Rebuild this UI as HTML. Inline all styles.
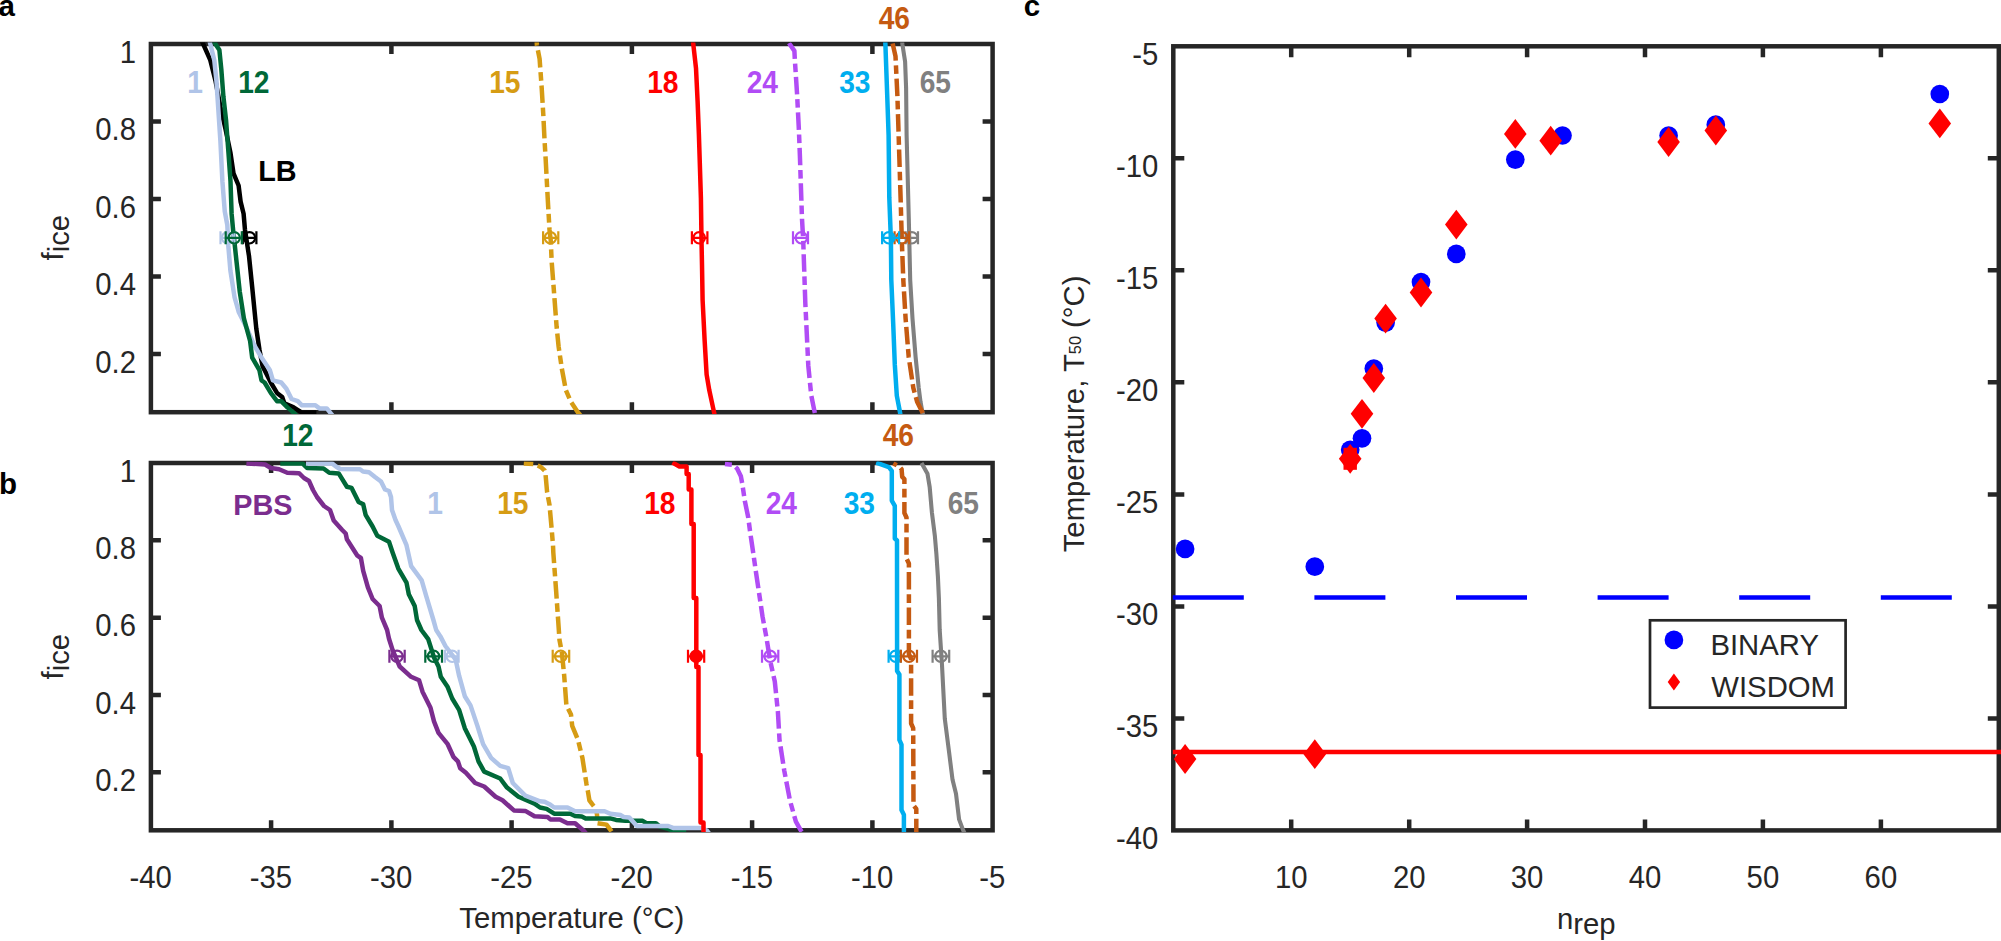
<!DOCTYPE html>
<html lang="en"><head><meta charset="utf-8"><title>Ice nucleation figure</title>
<style>html,body{margin:0;padding:0;background:#fff;overflow:hidden}svg{display:block}text{font-family:"Liberation Sans",sans-serif}</style></head><body>
<svg width="2001" height="941" viewBox="0 0 2001 941">
<rect width="2001" height="941" fill="#fff"/>
<defs>
<clipPath id="ca"><rect x="150.6" y="42.4" width="842.3" height="371.6"/></clipPath>
<clipPath id="cb"><rect x="150.6" y="461.4" width="842.3" height="370.7"/></clipPath>
<clipPath id="cc"><rect x="1173.0" y="44.7" width="826.1" height="787.5"/></clipPath>
</defs>
<rect x="150.9" y="44.0" width="841.7" height="368.2" fill="none" stroke="#262626" stroke-width="4.5"/>
<path d="M391.4 412.2v-10.0M391.4 44.0v10.0M631.9 412.2v-10.0M631.9 44.0v10.0M872.4 412.2v-10.0M872.4 44.0v10.0M150.9 121.5h10.0M992.6 121.5h-10.0M150.9 199.0h10.0M992.6 199.0h-10.0M150.9 276.5h10.0M992.6 276.5h-10.0M150.9 354.1h10.0M992.6 354.1h-10.0" fill="none" stroke="#262626" stroke-width="4.5"/>
<polyline points="201.5,40.0 203.2,44.0 210.3,60.2 215.4,80.4 220.4,106.7 225.5,128.9 230.5,153.0 233.5,173.3 238.6,185.5 240.6,201.6 243.6,213.7 245.0,230.0 249.0,256.0 252.2,287.2 256.3,328.6 259.4,349.4 262.5,365.9 270.8,382.5 277.0,392.9 282.2,397.0 284.3,403.2 293.6,407.4 301.9,412.6 316.4,412.6" fill="none" stroke="#000000" stroke-width="4.5" stroke-linejoin="round" clip-path="url(#ca)"/>
<polyline points="209.3,40.0 210.3,44.0 214.3,60.2 216.4,80.4 218.4,110.7 220.4,141.0 222.4,181.4 224.8,211.7 227.3,225.0 228.3,245.7 230.4,270.6 234.6,297.5 238.7,312.0 247.0,328.6 254.2,345.2 261.5,357.6 269.8,370.0 272.9,380.4 281.2,382.5 286.4,388.7 291.6,399.0 297.8,401.2 301.9,405.3 315.4,405.3 319.5,408.4 326.8,408.4 331.0,413.6 333.0,416.0" fill="none" stroke="#B0C4E8" stroke-width="4.5" stroke-linejoin="round" clip-path="url(#ca)"/>
<polyline points="213.4,40.0 215.4,44.0 219.4,50.1 221.4,70.3 223.4,96.6 226.1,120.8 228.5,153.1 230.5,181.4 231.6,213.7 233.1,230.0 234.4,241.6 236.6,262.3 239.7,291.3 243.9,318.3 250.1,341.0 252.2,357.6 259.4,370.0 261.5,380.4 264.6,382.5 270.8,392.9 277.0,401.2 281.2,401.2 287.4,407.4 293.6,412.6 297.0,416.0" fill="none" stroke="#006838" stroke-width="4.5" stroke-linejoin="round" clip-path="url(#ca)"/>
<polyline points="536.6,40.0 536.9,45.0 539.6,58.9 541.7,88.1 543.3,114.7 544.6,141.2 545.7,159.8 547.8,199.9 549.5,229.7 550.7,240.0 551.7,262.0 554.6,300.0 556.6,326.6 558.6,346.5 561.9,369.0 565.9,390.3 571.2,402.3 577.8,412.2 581.0,416.0" fill="none" stroke="#D69C14" stroke-width="4.5" stroke-linejoin="round" stroke-dasharray="17.5 4.7 8.6 4.7" stroke-dashoffset="25.19" clip-path="url(#ca)"/>
<polyline points="692.8,40.0 693.3,44.3 696.0,68.2 697.6,101.4 698.9,134.6 699.7,159.8 700.9,198.0 701.5,240.0 702.0,265.0 702.6,300.0 704.6,339.8 706.6,374.4 709.3,390.3 713.9,411.6 714.8,416.0" fill="none" stroke="#FF0000" stroke-width="4.5" stroke-linejoin="round" clip-path="url(#ca)"/>
<polyline points="787.0,40.0 789.6,44.0 794.4,50.9 794.8,59.0 797.1,94.5 798.9,130.0 799.9,156.0 802.0,218.9 803.2,239.8 805.3,302.8 808.3,365.7 811.2,395.1 814.6,411.9 815.5,416.0" fill="none" stroke="#B14CF5" stroke-width="4.5" stroke-linejoin="round" stroke-dasharray="17.5 4.7 8.6 4.7" stroke-dashoffset="31.78" clip-path="url(#ca)"/>
<polyline points="902.0,40.0 902.4,44.3 905.1,61.6 906.1,88.1 906.6,134.9 908.8,218.9 910.2,280.0 912.5,318.5 915.6,357.0 918.7,387.8 920.5,401.7 922.3,411.7 923.5,416.0" fill="none" stroke="#808080" stroke-width="4.1" stroke-linejoin="round" clip-path="url(#ca)"/>
<polyline points="891.8,40.0 892.8,44.3 895.5,56.2 897.4,96.0 898.5,131.0 900.6,197.9 901.8,239.8 903.3,280.0 905.6,318.5 908.7,357.0 913.3,387.8 917.1,401.7 922.1,411.7 924.0,416.0" fill="none" stroke="#C55A11" stroke-width="4.5" stroke-linejoin="round" stroke-dasharray="17.5 4.7 8.6 4.7" stroke-dashoffset="31.96" clip-path="url(#ca)"/>
<polyline points="885.2,40.0 885.4,44.3 887.2,95.0 888.6,134.9 889.3,197.9 890.9,239.8 891.3,280.0 893.3,326.2 894.8,364.7 896.8,395.6 899.9,411.7 900.6,416.0" fill="none" stroke="#00AEEF" stroke-width="4.5" stroke-linejoin="round" clip-path="url(#ca)"/>
<g stroke="#000000" stroke-width="2.2" fill="none">
<path d="M242.8 237.8H256.4M242.8 231.3v13.0M256.4 231.3v13.0"/>
<circle cx="249.5" cy="237.8" r="5.7"/>
</g>
<g stroke="#B0C4E8" stroke-width="2.2" fill="none">
<path d="M220.5 237.8H234.5M220.5 231.3v13.0M234.5 231.3v13.0"/>
<circle cx="227.5" cy="237.8" r="5.7"/>
</g>
<g stroke="#006838" stroke-width="2.2" fill="none">
<path d="M225.7 237.8H241.8M225.7 231.3v13.0M241.8 231.3v13.0"/>
<circle cx="234.2" cy="237.8" r="5.7"/>
</g>
<g stroke="#D69C14" stroke-width="2.2" fill="none">
<path d="M543.1 237.8H558.3M543.1 231.3v13.0M558.3 231.3v13.0"/>
<circle cx="550.4" cy="237.8" r="5.7"/>
</g>
<g stroke="#FF0000" stroke-width="2.2" fill="none">
<path d="M691.9 237.8H707.4M691.9 231.3v13.0M707.4 231.3v13.0"/>
<circle cx="699.2" cy="237.8" r="5.7"/>
</g>
<g stroke="#B14CF5" stroke-width="2.2" fill="none">
<path d="M793.0 237.8H808.0M793.0 231.3v13.0M808.0 231.3v13.0"/>
<circle cx="801.3" cy="237.8" r="5.7"/>
</g>
<g stroke="#808080" stroke-width="2.2" fill="none">
<path d="M905.7 237.8H918.0M905.7 231.3v13.0M918.0 231.3v13.0"/>
<circle cx="911.8" cy="237.8" r="5.7"/>
</g>
<g stroke="#C55A11" stroke-width="2.2" fill="none">
<path d="M894.6 237.8H909.2M894.6 231.3v13.0M909.2 231.3v13.0"/>
<circle cx="902.0" cy="237.8" r="5.7"/>
</g>
<g stroke="#00AEEF" stroke-width="2.2" fill="none">
<path d="M882.1 237.8H899.1M882.1 231.3v13.0M899.1 231.3v13.0"/>
<circle cx="888.8" cy="237.8" r="5.7"/>
</g>
<text transform="translate(187.2 93.0) scale(1 1.12)" font-size="28.2" font-weight="bold" text-anchor="start" fill="#B0C4E8">1</text>
<text transform="translate(238.2 93.0) scale(1 1.12)" font-size="28.2" font-weight="bold" text-anchor="start" fill="#006838">12</text>
<text transform="translate(258.2 181.4) scale(1 1.045)" font-size="28.8" font-weight="bold" text-anchor="start" fill="#000000">LB</text>
<text transform="translate(489.2 93.0) scale(1 1.12)" font-size="28.2" font-weight="bold" text-anchor="start" fill="#D69C14">15</text>
<text transform="translate(647.2 93.0) scale(1 1.12)" font-size="28.2" font-weight="bold" text-anchor="start" fill="#FF0000">18</text>
<text transform="translate(746.7 93.0) scale(1 1.12)" font-size="28.2" font-weight="bold" text-anchor="start" fill="#B14CF5">24</text>
<text transform="translate(839.2 93.0) scale(1 1.12)" font-size="28.2" font-weight="bold" text-anchor="start" fill="#00AEEF">33</text>
<text transform="translate(919.7 93.0) scale(1 1.12)" font-size="28.2" font-weight="bold" text-anchor="start" fill="#808080">65</text>
<text transform="translate(878.7 29.3) scale(1 1.12)" font-size="28.2" font-weight="bold" text-anchor="start" fill="#C55A11">46</text>
<text transform="translate(136.0 62.6) scale(1 1.06)" font-size="29.3" text-anchor="end" fill="#262626">1</text>
<text transform="translate(136.0 481.6) scale(1 1.06)" font-size="29.3" text-anchor="end" fill="#262626">1</text>
<text transform="translate(136.0 140.1) scale(1 1.06)" font-size="29.3" text-anchor="end" fill="#262626">0.8</text>
<text transform="translate(136.0 558.9) scale(1 1.06)" font-size="29.3" text-anchor="end" fill="#262626">0.8</text>
<text transform="translate(136.0 217.6) scale(1 1.06)" font-size="29.3" text-anchor="end" fill="#262626">0.6</text>
<text transform="translate(136.0 636.3) scale(1 1.06)" font-size="29.3" text-anchor="end" fill="#262626">0.6</text>
<text transform="translate(136.0 295.1) scale(1 1.06)" font-size="29.3" text-anchor="end" fill="#262626">0.4</text>
<text transform="translate(136.0 713.6) scale(1 1.06)" font-size="29.3" text-anchor="end" fill="#262626">0.4</text>
<text transform="translate(136.0 372.7) scale(1 1.06)" font-size="29.3" text-anchor="end" fill="#262626">0.2</text>
<text transform="translate(136.0 790.9) scale(1 1.06)" font-size="29.3" text-anchor="end" fill="#262626">0.2</text>
<rect x="150.9" y="463.0" width="841.7" height="367.3" fill="none" stroke="#262626" stroke-width="4.5"/>
<path d="M271.1 830.3v-10.0M271.1 463.0v10.0M391.4 830.3v-10.0M391.4 463.0v10.0M511.6 830.3v-10.0M511.6 463.0v10.0M631.9 830.3v-10.0M631.9 463.0v10.0M752.1 830.3v-10.0M752.1 463.0v10.0M872.4 830.3v-10.0M872.4 463.0v10.0M150.9 540.3h10.0M992.6 540.3h-10.0M150.9 617.7h10.0M992.6 617.7h-10.0M150.9 695.0h10.0M992.6 695.0h-10.0M150.9 772.3h10.0M992.6 772.3h-10.0" fill="none" stroke="#262626" stroke-width="4.5"/>
<polyline points="246.4,463.4 265.1,464.5 270.9,468.0 279.1,469.2 287.3,472.7 299.0,473.2 304.0,478.0 309.0,481.0 313.0,490.0 317.0,497.0 324.0,506.0 330.0,510.0 333.7,520.6 342.2,530.0 345.7,533.5 346.9,539.3 357.4,555.7 360.9,558.0 363.2,570.9 367.9,587.3 372.6,599.0 379.6,606.0 381.9,617.7 387.1,630.0 389.0,638.7 392.8,650.6 399.7,666.5 411.1,676.8 419.1,680.3 422.5,691.7 430.5,707.7 434.0,721.4 438.5,732.8 447.7,744.2 453.4,756.8 457.9,761.3 460.2,768.2 465.9,772.8 475.1,783.0 484.2,786.5 495.6,796.7 502.5,800.2 513.9,810.4 525.3,810.9 534.5,816.2 547.6,817.0 550.4,819.4 559.9,819.4 567.5,823.2 575.1,823.2 583.7,830.8 586.5,834.0" fill="none" stroke="#7B2D8E" stroke-width="4.5" stroke-linejoin="round" clip-path="url(#cb)"/>
<polyline points="523.8,463.4 533.7,464.0 537.8,465.6 541.5,467.6 544.6,470.5 545.6,475.1 547.1,492.1 549.5,504.9 551.5,527.1 553.0,545.2 553.3,552.3 556.2,592.0 558.3,622.4 559.5,640.0 561.9,652.8 564.2,675.7 566.4,705.4 571.0,714.5 572.2,725.9 577.9,739.6 582.4,757.9 586.5,784.2 588.0,791.8 589.4,800.4 592.2,804.2 596.0,808.9 597.0,814.6 597.5,823.2 600.8,823.7 606.5,824.6 610.8,830.3 613.0,834.0" fill="none" stroke="#D69C14" stroke-width="4.5" stroke-linejoin="round" stroke-dasharray="17.5 4.7 8.6 4.7" stroke-dashoffset="8.02" clip-path="url(#cb)"/>
<polyline points="280.3,463.4 302.5,463.4 307.1,468.0 323.5,468.5 329.3,472.7 338.7,473.4 346.9,486.7 351.6,487.9 358.6,502.0 363.2,504.3 365.6,514.8 372.6,526.5 377.3,535.8 389.0,541.7 392.5,552.2 398.3,568.6 406.5,582.6 408.8,594.3 414.7,606.0 417.0,620.0 421.4,630.0 428.2,639.1 434.0,657.4 438.5,666.5 440.8,676.8 447.7,687.1 452.2,698.5 459.1,709.9 464.8,728.2 473.9,746.5 478.5,761.3 484.2,771.6 500.2,778.5 507.0,787.6 518.5,796.7 534.5,803.6 540.0,807.5 546.6,808.9 554.2,813.7 570.4,813.7 575.1,816.1 581.8,816.5 585.6,818.4 610.3,818.4 616.0,819.9 625.5,820.8 642.6,820.8 646.4,823.2 655.9,823.2 659.7,826.5 668.2,828.9 673.0,830.8 686.2,830.8" fill="none" stroke="#006838" stroke-width="4.5" stroke-linejoin="round" clip-path="url(#cb)"/>
<polyline points="306.0,463.4 332.0,463.4 336.0,466.5 340.0,469.0 360.0,469.3 363.0,471.5 369.0,472.2 375.0,477.0 381.0,481.5 385.0,489.5 389.0,491.0 391.0,497.0 392.0,510.0 395.5,520.0 398.3,526.0 406.5,545.2 411.2,566.2 421.7,580.3 426.4,596.6 433.4,620.0 436.2,630.0 440.4,636.4 445.4,646.0 455.7,659.7 459.1,675.7 464.8,696.2 470.5,705.4 477.4,725.9 483.1,744.2 491.1,757.9 500.2,765.9 508.2,768.2 512.8,783.0 525.3,795.6 540.0,801.3 544.7,801.8 549.5,804.2 554.2,807.5 567.5,807.5 575.1,811.3 604.6,811.3 610.3,813.7 620.7,815.1 623.6,817.0 629.3,817.5 636.9,826.0 668.2,826.0 673.0,827.9 701.4,827.9 707.1,830.8 709.5,834.0" fill="none" stroke="#B0C4E8" stroke-width="4.5" stroke-linejoin="round" clip-path="url(#cb)"/>
<polyline points="672.5,462.5 679.4,466.5 686.6,466.5 686.6,474.0 688.7,474.0 688.7,489.5 691.4,489.5 691.4,524.0 693.7,524.0 693.7,598.0 696.3,598.0 696.3,667.0 698.5,667.0 698.5,755.0 700.5,755.0 700.5,822.5 703.5,822.5 703.5,834.0" fill="none" stroke="#FF0000" stroke-width="4.5" stroke-linejoin="round" clip-path="url(#cb)"/>
<polyline points="724.9,464.0 733.1,464.8 737.2,468.7 740.9,476.3 742.5,485.1 744.8,500.8 748.3,517.8 750.1,531.8 753.3,553.4 756.1,573.1 759.9,598.6 762.5,616.4 766.3,636.8 770.1,660.4 774.8,681.4 777.9,711.8 779.5,739.9 784.2,770.3 790.0,800.7 795.9,821.7 800.5,829.9 803.0,834.0" fill="none" stroke="#B14CF5" stroke-width="4.5" stroke-linejoin="round" stroke-dasharray="17.5 4.7 8.6 4.7" stroke-dashoffset="23.84" clip-path="url(#cb)"/>
<polyline points="876.2,462.6 888.8,467.1 891.8,470.8 891.8,500.6 894.8,505.8 894.8,538.5 897.0,540.5 897.1,670.9 899.4,674.4 899.4,739.9 901.5,744.6 901.5,810.0 903.9,814.7 903.9,834.0" fill="none" stroke="#00AEEF" stroke-width="4.5" stroke-linejoin="round" clip-path="url(#cb)"/>
<polyline points="893.3,463.4 899.2,466.4 901.6,469.3 902.2,476.8 904.4,479.0 904.4,513.0 906.5,517.5 906.5,558.5 908.9,563.5 908.9,654.0 911.1,659.0 911.1,723.5 913.2,728.2 913.5,805.4 916.3,808.9 916.3,834.0" fill="none" stroke="#C55A11" stroke-width="4.5" stroke-linejoin="round" stroke-dasharray="17.5 4.7 8.6 4.7" stroke-dashoffset="26.88" clip-path="url(#cb)"/>
<polyline points="921.5,463.1 927.5,473.8 929.7,487.2 931.9,512.5 934.9,536.3 936.4,554.1 937.9,576.5 938.9,598.6 939.7,630.0 942.0,665.1 944.8,718.8 949.0,751.6 952.5,779.6 956.0,793.7 959.1,819.4 963.0,829.9 965.0,834.0" fill="none" stroke="#808080" stroke-width="4.1" stroke-linejoin="round" clip-path="url(#cb)"/>
<g stroke="#7B2D8E" stroke-width="2.2" fill="none">
<path d="M389.4 656.3H404.7M389.4 649.8v13.0M404.7 649.8v13.0"/>
<circle cx="397.0" cy="656.3" r="5.7"/>
</g>
<g stroke="#B0C4E8" stroke-width="2.2" fill="none">
<path d="M444.9 656.3H458.6M444.9 649.8v13.0M458.6 649.8v13.0"/>
<circle cx="452.2" cy="656.3" r="5.7"/>
</g>
<g stroke="#006838" stroke-width="2.2" fill="none">
<path d="M425.3 656.3H442.0M425.3 649.8v13.0M442.0 649.8v13.0"/>
<circle cx="433.5" cy="656.3" r="5.7"/>
</g>
<g stroke="#D69C14" stroke-width="2.2" fill="none">
<path d="M552.7 656.3H569.2M552.7 649.8v13.0M569.2 649.8v13.0"/>
<circle cx="560.7" cy="656.3" r="5.7"/>
</g>
<g stroke="#FF0000" stroke-width="2.2" fill="#FF0000">
<path d="M688.0 656.3H704.2M688.0 649.8v13.0M704.2 649.8v13.0"/>
<circle cx="696.2" cy="656.3" r="5.7"/>
</g>
<g stroke="#B14CF5" stroke-width="2.2" fill="none">
<path d="M762.0 656.3H778.3M762.0 649.8v13.0M778.3 649.8v13.0"/>
<circle cx="770.1" cy="656.3" r="5.7"/>
</g>
<g stroke="#00AEEF" stroke-width="2.2" fill="none">
<path d="M888.6 656.3H900.4M888.6 649.8v13.0M900.4 649.8v13.0"/>
<circle cx="895.7" cy="656.3" r="5.7"/>
</g>
<g stroke="#C55A11" stroke-width="2.2" fill="none">
<path d="M900.9 656.3H917.0M900.9 649.8v13.0M917.0 649.8v13.0"/>
<circle cx="909.0" cy="656.3" r="5.7"/>
</g>
<g stroke="#808080" stroke-width="2.2" fill="none">
<path d="M932.6 656.3H949.2M932.6 649.8v13.0M949.2 649.8v13.0"/>
<circle cx="940.9" cy="656.3" r="5.7"/>
</g>
<text transform="translate(282.2 446.3) scale(1 1.12)" font-size="28.2" font-weight="bold" text-anchor="start" fill="#006838">12</text>
<text transform="translate(233.2 515.0) scale(1 1.045)" font-size="28.8" font-weight="bold" text-anchor="start" fill="#7B2D8E">PBS</text>
<text transform="translate(427.2 514.0) scale(1 1.12)" font-size="28.2" font-weight="bold" text-anchor="start" fill="#B0C4E8">1</text>
<text transform="translate(497.2 514.0) scale(1 1.12)" font-size="28.2" font-weight="bold" text-anchor="start" fill="#D69C14">15</text>
<text transform="translate(644.2 514.0) scale(1 1.12)" font-size="28.2" font-weight="bold" text-anchor="start" fill="#FF0000">18</text>
<text transform="translate(765.7 514.0) scale(1 1.12)" font-size="28.2" font-weight="bold" text-anchor="start" fill="#B14CF5">24</text>
<text transform="translate(843.7 514.0) scale(1 1.12)" font-size="28.2" font-weight="bold" text-anchor="start" fill="#00AEEF">33</text>
<text transform="translate(947.7 514.0) scale(1 1.12)" font-size="28.2" font-weight="bold" text-anchor="start" fill="#808080">65</text>
<text transform="translate(882.7 446.3) scale(1 1.12)" font-size="28.2" font-weight="bold" text-anchor="start" fill="#C55A11">46</text>
<text transform="translate(150.6 888.4) scale(1 1.06)" font-size="29.3" text-anchor="middle" fill="#262626">-40</text>
<text transform="translate(270.8 888.4) scale(1 1.06)" font-size="29.3" text-anchor="middle" fill="#262626">-35</text>
<text transform="translate(391.1 888.4) scale(1 1.06)" font-size="29.3" text-anchor="middle" fill="#262626">-30</text>
<text transform="translate(511.3 888.4) scale(1 1.06)" font-size="29.3" text-anchor="middle" fill="#262626">-25</text>
<text transform="translate(631.6 888.4) scale(1 1.06)" font-size="29.3" text-anchor="middle" fill="#262626">-20</text>
<text transform="translate(751.8 888.4) scale(1 1.06)" font-size="29.3" text-anchor="middle" fill="#262626">-15</text>
<text transform="translate(872.1 888.4) scale(1 1.06)" font-size="29.3" text-anchor="middle" fill="#262626">-10</text>
<text transform="translate(992.3 888.4) scale(1 1.06)" font-size="29.3" text-anchor="middle" fill="#262626">-5</text>
<text x="571.8" y="928.0" font-size="29.3" text-anchor="middle" fill="#262626">Temperature (°C)</text>
<text transform="translate(63.1 260.5) rotate(-90)" font-size="29.3" fill="#262626">f<tspan dy="5.9">ice</tspan></text>
<text transform="translate(63.1 679.5) rotate(-90)" font-size="29.3" fill="#262626">f<tspan dy="5.9">ice</tspan></text>
<text x="-1.5" y="15.9" font-size="29.5" font-weight="bold" text-anchor="start" fill="#000">a</text>
<text x="-1.0" y="493.5" font-size="29.5" font-weight="bold" text-anchor="start" fill="#000">b</text>
<text x="1023.8" y="15.6" font-size="29.5" font-weight="bold" text-anchor="start" fill="#000">c</text>
<rect x="1173.3" y="46.3" width="825.5" height="784.1" fill="none" stroke="#262626" stroke-width="4.5"/>
<path d="M1291.2 830.4v-11.0M1291.2 46.3v11.0M1409.2 830.4v-11.0M1409.2 46.3v11.0M1527.1 830.4v-11.0M1527.1 46.3v11.0M1645.0 830.4v-11.0M1645.0 46.3v11.0M1762.9 830.4v-11.0M1762.9 46.3v11.0M1880.9 830.4v-11.0M1880.9 46.3v11.0M1173.3 158.3h11.0M1998.8 158.3h-11.0M1173.3 270.3h11.0M1998.8 270.3h-11.0M1173.3 382.3h11.0M1998.8 382.3h-11.0M1173.3 494.4h11.0M1998.8 494.4h-11.0M1173.3 606.4h11.0M1998.8 606.4h-11.0M1173.3 718.4h11.0M1998.8 718.4h-11.0" fill="none" stroke="#262626" stroke-width="4.5"/>
<path d="M1172.8 597.4H1998.8" stroke="#0000FF" stroke-width="4.5" stroke-dasharray="71 70.6" fill="none"/>
<path d="M1172.8 752H2001.8" stroke="#FF0000" stroke-width="4.5" fill="none"/>
<circle cx="1185.1" cy="548.9" r="9.35" fill="#0000FF"/>
<circle cx="1314.8" cy="566.7" r="9.35" fill="#0000FF"/>
<circle cx="1350.2" cy="449.8" r="9.35" fill="#0000FF"/>
<circle cx="1362.0" cy="438.3" r="9.35" fill="#0000FF"/>
<circle cx="1373.8" cy="368.5" r="9.35" fill="#0000FF"/>
<circle cx="1385.6" cy="322.6" r="9.35" fill="#0000FF"/>
<circle cx="1421.0" cy="282.0" r="9.35" fill="#0000FF"/>
<circle cx="1456.3" cy="253.9" r="9.35" fill="#0000FF"/>
<circle cx="1515.3" cy="159.6" r="9.35" fill="#0000FF"/>
<circle cx="1562.5" cy="135.5" r="9.35" fill="#0000FF"/>
<circle cx="1668.6" cy="135.5" r="9.35" fill="#0000FF"/>
<circle cx="1715.8" cy="124.7" r="9.35" fill="#0000FF"/>
<circle cx="1939.8" cy="94.0" r="9.35" fill="#0000FF"/>
<rect x="1343.5" y="447.8" width="13.4" height="22" fill="#FF0000"/>
<path d="M1185.1 744.1l11.3 14.9l-11.3 14.9l-11.3 -14.9z" fill="#FF0000"/>
<path d="M1314.8 739.3l11.3 14.9l-11.3 14.9l-11.3 -14.9z" fill="#FF0000"/>
<path d="M1350.2 443.9l11.3 14.9l-11.3 14.9l-11.3 -14.9z" fill="#FF0000"/>
<path d="M1362.0 398.9l11.3 14.9l-11.3 14.9l-11.3 -14.9z" fill="#FF0000"/>
<path d="M1373.8 363.1l11.3 14.9l-11.3 14.9l-11.3 -14.9z" fill="#FF0000"/>
<path d="M1385.6 303.7l11.3 14.9l-11.3 14.9l-11.3 -14.9z" fill="#FF0000"/>
<path d="M1421.0 277.6l11.3 14.9l-11.3 14.9l-11.3 -14.9z" fill="#FF0000"/>
<path d="M1456.3 209.7l11.3 14.9l-11.3 14.9l-11.3 -14.9z" fill="#FF0000"/>
<path d="M1515.3 119.0l11.3 14.9l-11.3 14.9l-11.3 -14.9z" fill="#FF0000"/>
<path d="M1550.7 125.8l11.3 14.9l-11.3 14.9l-11.3 -14.9z" fill="#FF0000"/>
<path d="M1668.6 127.1l11.3 14.9l-11.3 14.9l-11.3 -14.9z" fill="#FF0000"/>
<path d="M1715.8 115.6l11.3 14.9l-11.3 14.9l-11.3 -14.9z" fill="#FF0000"/>
<path d="M1939.8 108.5l11.3 14.9l-11.3 14.9l-11.3 -14.9z" fill="#FF0000"/>
<rect x="1650" y="620.3" width="195.6" height="87.3" fill="#fff" stroke="#262626" stroke-width="2.7"/>
<circle cx="1673.9" cy="639.9" r="9.35" fill="#0000FF"/>
<path d="M1673.9 673.6l6.2 8.4l-6.2 8.4l-6.2 -8.4z" fill="#FF0000"/>
<text x="1710.4" y="655.0" font-size="29.3" text-anchor="start" fill="#262626">BINARY</text>
<text x="1711.3" y="697.2" font-size="29.3" text-anchor="start" fill="#262626">WISDOM</text>
<text transform="translate(1158.3 64.9) scale(1 1.06)" font-size="29.3" text-anchor="end" fill="#262626">-5</text>
<text transform="translate(1158.3 176.9) scale(1 1.06)" font-size="29.3" text-anchor="end" fill="#262626">-10</text>
<text transform="translate(1158.3 288.9) scale(1 1.06)" font-size="29.3" text-anchor="end" fill="#262626">-15</text>
<text transform="translate(1158.3 400.9) scale(1 1.06)" font-size="29.3" text-anchor="end" fill="#262626">-20</text>
<text transform="translate(1158.3 513.0) scale(1 1.06)" font-size="29.3" text-anchor="end" fill="#262626">-25</text>
<text transform="translate(1158.3 625.0) scale(1 1.06)" font-size="29.3" text-anchor="end" fill="#262626">-30</text>
<text transform="translate(1158.3 737.0) scale(1 1.06)" font-size="29.3" text-anchor="end" fill="#262626">-35</text>
<text transform="translate(1158.3 849.0) scale(1 1.06)" font-size="29.3" text-anchor="end" fill="#262626">-40</text>
<text transform="translate(1291.2 888.4) scale(1 1.06)" font-size="29.3" text-anchor="middle" fill="#262626">10</text>
<text transform="translate(1409.2 888.4) scale(1 1.06)" font-size="29.3" text-anchor="middle" fill="#262626">20</text>
<text transform="translate(1527.1 888.4) scale(1 1.06)" font-size="29.3" text-anchor="middle" fill="#262626">30</text>
<text transform="translate(1645.0 888.4) scale(1 1.06)" font-size="29.3" text-anchor="middle" fill="#262626">40</text>
<text transform="translate(1762.9 888.4) scale(1 1.06)" font-size="29.3" text-anchor="middle" fill="#262626">50</text>
<text transform="translate(1880.9 888.4) scale(1 1.06)" font-size="29.3" text-anchor="middle" fill="#262626">60</text>
<text x="1557" y="928.6" font-size="29.3" fill="#262626">n<tspan dy="5.3">rep</tspan></text>
<text transform="translate(1084.4 552.3) rotate(-90)" font-size="29.3" fill="#262626">Temperature, T<tspan font-size="16.3" dy="-3.2">50</tspan><tspan dy="3.2"> (°C)</tspan></text>
</svg></body></html>
